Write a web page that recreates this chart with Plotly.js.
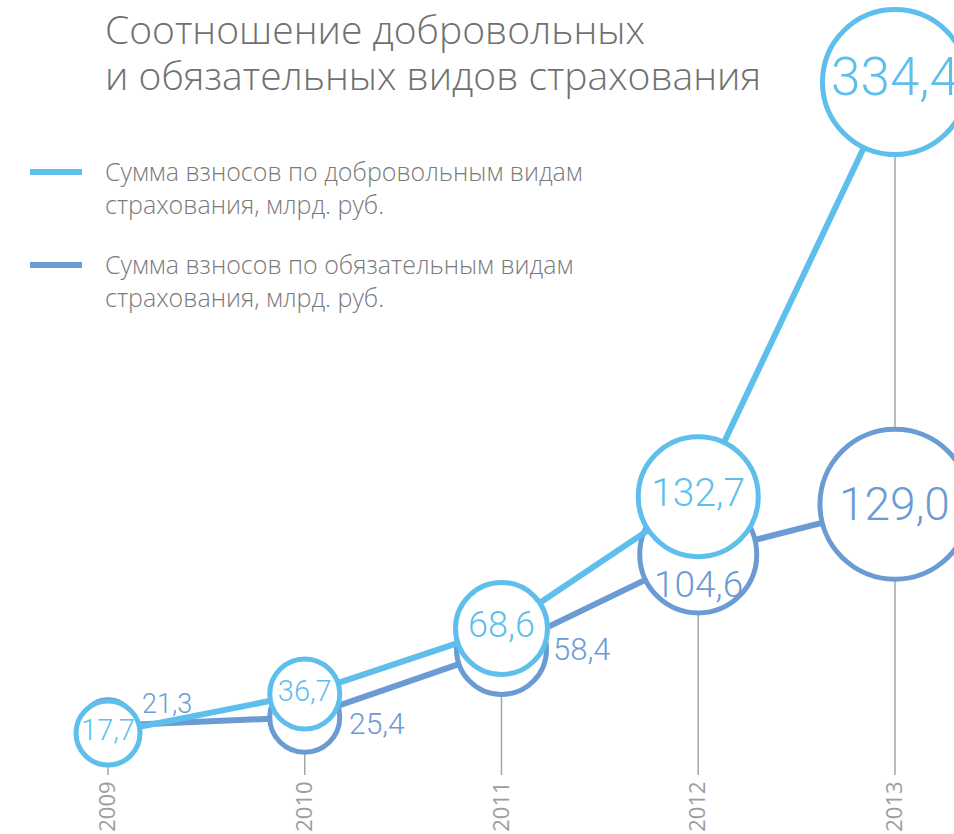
<!DOCTYPE html>
<html><head><meta charset="utf-8">
<script src="https://cdn.plot.ly/plotly-3.0.1.min.js"></script>
<style>html,body{margin:0;padding:0;background:#fff;}#chart{width:954px;height:834px;}</style>
</head><body><div id="chart"></div>
<script>
// ---- data ----
const years = [2009, 2010, 2011, 2012, 2013];
const yearLabels = ['2009', '2010', '2011', '2012', '2013'];
const voluntary = [17.7, 36.7, 68.6, 132.7, 334.4];
const mandatory = [21.3, 25.4, 58.4, 104.6, 129.0];
const seriesNames = [
  'Сумма взносов по добровольным видам<br>страхования, млрд. руб.',
  'Сумма взносов по обязательным видам<br>страхования, млрд. руб.'
];
const titleLines = ['Соотношение добровольных', 'и обязательных видов страхования'];

// ---- styles ----
const cLight = '#5ebfec', cDark = '#6a9bd3';
const volSizes = [64, 70, 92, 120, 145];
const manSizes = [52, 70, 90, 117, 150];
const volFont = [29, 29, 36, 39, 53];
const manFont = [27, 30, 31, 37, 46];
// label offsets (px) for the mandatory series labels
const manLabelStyle = [
  {xanchor: 'left', xshift: 32, yshift: 22},
  {xanchor: 'left', xshift: 42, yshift: -6},
  {xanchor: 'left', xshift: 50, yshift: 0},
  {xanchor: 'center', xshift: 0, yshift: -30},
  {xanchor: 'center', xshift: 0, yshift: 0}
];
const numFont = 'Roboto, "Liberation Sans", sans-serif';
const txtFont = '"Open Sans", sans-serif';
const fmt = v => v.toFixed(1).replace('.', ',');

const W = 954, H = 834, plotH = 775;
const yRange = [-2.7, 374.3];
const xRange = [2008.451, 2013.30];

const traces = [
  {
    x: years, y: mandatory, name: seriesNames[1], type: 'scatter',
    mode: 'lines+markers', cliponaxis: false, showlegend: false,
    line: {color: cDark, width: 6},
    marker: {size: manSizes, color: '#ffffff', line: {color: cDark, width: 5}, opacity: 1},
    hoverinfo: 'skip'
  },
  {
    x: years, y: voluntary, name: seriesNames[0], type: 'scatter',
    mode: 'lines+markers+text', cliponaxis: false, showlegend: false,
    line: {color: cLight, width: 6},
    marker: {size: volSizes, color: '#ffffff', line: {color: cLight, width: 5}, opacity: 1},
    text: voluntary.map(fmt), textposition: 'middle center',
    textfont: {family: numFont, size: volFont, color: cLight, weight: 300},
    hoverinfo: 'skip'
  }
];

const shapes = years.map((yr, i) => ({
  type: 'line', xref: 'x', yref: 'y', layer: 'below',
  x0: yr, x1: yr, y0: yRange[0], y1: Math.max(voluntary[i], mandatory[i]),
  line: {color: '#a6a6a6', width: 1.5}
}));
shapes.push(
  {type: 'line', xref: 'paper', yref: 'paper', x0: 30 / W, x1: 82 / W, y0: 1 - 172 / plotH, y1: 1 - 172 / plotH, line: {color: cLight, width: 6}},
  {type: 'line', xref: 'paper', yref: 'paper', x0: 30 / W, x1: 82 / W, y0: 1 - 265 / plotH, y1: 1 - 265 / plotH, line: {color: cDark, width: 6}}
);

const titleFont = {family: txtFont, size: 39, color: '#707070', weight: 300};
const legendFont = {family: txtFont, size: 25, color: '#7a7a7a', weight: 300};
const annotations = [
  {text: titleLines[0], xref: 'paper', yref: 'paper', x: 103 / W, y: 1 - 0 / plotH, xanchor: 'left', yanchor: 'top', showarrow: false, font: titleFont},
  {text: titleLines[1], xref: 'paper', yref: 'paper', x: 103 / W, y: 1 - 46 / plotH, xanchor: 'left', yanchor: 'top', showarrow: false, font: titleFont},
  {text: seriesNames[0], xref: 'paper', yref: 'paper', x: 103 / W, y: 1 - 152 / plotH, xanchor: 'left', yanchor: 'top', align: 'left', showarrow: false, font: legendFont},
  {text: seriesNames[1], xref: 'paper', yref: 'paper', x: 103 / W, y: 1 - 245 / plotH, xanchor: 'left', yanchor: 'top', align: 'left', showarrow: false, font: legendFont}
];
mandatory.forEach((v, i) => {
  const s = manLabelStyle[i];
  annotations.push({
    text: fmt(v), x: years[i], y: v, xref: 'x', yref: 'y', showarrow: false,
    xanchor: s.xanchor, yanchor: 'middle', xshift: s.xshift, yshift: s.yshift,
    font: {family: numFont, size: manFont[i], color: cDark, weight: 300}
  });
});

const layout = {
  width: W, height: H,
  margin: {l: 0, r: 0, t: 0, b: H - plotH, pad: 0},
  paper_bgcolor: '#ffffff', plot_bgcolor: '#ffffff',
  showlegend: false,
  xaxis: {
    range: xRange, tickvals: years, ticktext: yearLabels, tickangle: -90,
    showgrid: false, zeroline: false, showline: false, ticks: '',
    ticklabelstandoff: 1,
    tickfont: {family: txtFont, size: 22, color: '#9d9d9d'},
    fixedrange: true
  },
  yaxis: {range: yRange, visible: false, showgrid: false, zeroline: false, fixedrange: true},
  shapes: shapes,
  annotations: annotations
};

Plotly.newPlot('chart', traces, layout, {displayModeBar: false, staticPlot: true});
</script>
</body></html>
